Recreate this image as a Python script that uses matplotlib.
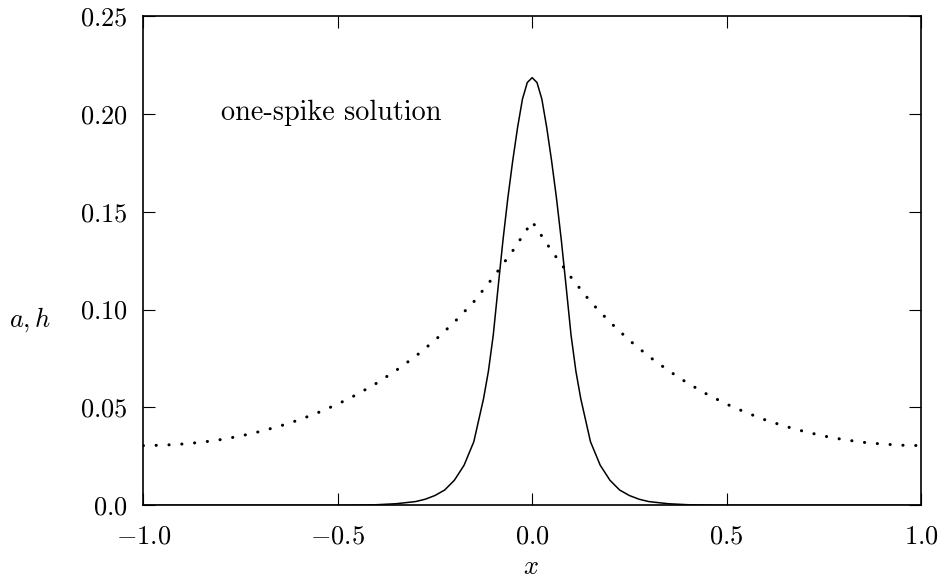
import numpy as np
import matplotlib
matplotlib.use("Agg")
import matplotlib.pyplot as plt

plt.rcParams['font.family'] = ['cmr10', 'DejaVu Serif']
plt.rcParams['mathtext.fontset'] = 'cm'
plt.rcParams['axes.unicode_minus'] = True

# spike profile a(x) (solid)
x_a = [-1.0, -0.5, -0.45, -0.4, -0.35, -0.3, -0.275, -0.25, -0.225, -0.2, -0.175, -0.15,
       -0.125, -0.1125, -0.1, -0.0875, -0.075, -0.0625, -0.05, -0.0375, -0.025, -0.0125,
       0.0,
       0.0125, 0.025, 0.0375, 0.05, 0.0625, 0.075, 0.0875, 0.1, 0.1125, 0.125,
       0.15, 0.175, 0.2, 0.225, 0.25, 0.275, 0.3, 0.35, 0.4, 0.45, 0.5, 1.0]
a_vals = [0.0, 0.0, 0.0001, 0.0003, 0.0008, 0.0019, 0.0031, 0.0050, 0.0078, 0.0128, 0.0205, 0.0325,
          0.0545, 0.0685, 0.0870, 0.1115, 0.1355, 0.1570, 0.1760, 0.1930, 0.2075, 0.2160,
          0.2185,
          0.2160, 0.2075, 0.1930, 0.1760, 0.1570, 0.1355, 0.1115, 0.0870, 0.0685, 0.0545,
          0.0325, 0.0205, 0.0128, 0.0078, 0.0050, 0.0031, 0.0019, 0.0008, 0.0003, 0.0001, 0.0, 0.0]

# inhibitor h(x) (dotted)
x_h = [-1.0, -0.95, -0.9, -0.85, -0.8, -0.75, -0.7, -0.65, -0.6, -0.55, -0.5, -0.45, -0.4,
       -0.35, -0.3, -0.25, -0.2, -0.15, -0.1, -0.05, 0.0,
       0.05, 0.1, 0.15, 0.2, 0.25, 0.3, 0.35, 0.4, 0.45, 0.5, 0.55, 0.6, 0.65, 0.7,
       0.75, 0.8, 0.85, 0.9, 0.95, 1.0]
h_vals = [0.0305, 0.0307, 0.0313, 0.0322, 0.0336, 0.0354, 0.0377, 0.0404, 0.0436, 0.0474, 0.0517,
          0.0567, 0.0624, 0.0689, 0.0761, 0.0843, 0.0936, 0.1040, 0.1165, 0.1300, 0.1450,
          0.1300, 0.1165, 0.1040, 0.0936, 0.0843, 0.0761, 0.0689, 0.0624, 0.0567, 0.0517,
          0.0474, 0.0436, 0.0404, 0.0377, 0.0354, 0.0336, 0.0322, 0.0313, 0.0307, 0.0305]

xticks = [-1.0, -0.5, 0.0, 0.5, 1.0]
xtick_labels = ['$-1.0$', '$-0.5$', '$0.0$', '$0.5$', '$1.0$']
yticks = [0.0, 0.05, 0.10, 0.15, 0.20, 0.25]
ytick_labels = ['$0.0$', '$0.05$', '$0.10$', '$0.15$', '$0.20$', '$0.25$']

fs = 19

fig = plt.figure(figsize=(9.43, 5.81), dpi=100)
ax = fig.add_axes([143.3 / 943, 1 - 505.3 / 581, 777.7 / 943, 489.3 / 581])

ax.plot(x_a, a_vals, color='black', lw=1.1, zorder=2)
ax.plot(x_h, h_vals, color='black', lw=2.2, linestyle=(0, (0.05, 4.15)),
        dash_capstyle='round', zorder=2)

ax.set_xlim(-1, 1)
ax.set_ylim(0, 0.25)
ax.set_xticks(xticks)
ax.set_xticklabels(xtick_labels)
ax.set_yticks(yticks)
ax.set_yticklabels(ytick_labels)
ax.tick_params(direction='in', length=8.6, width=0.8, top=True, right=True,
               labelsize=fs)
ax.tick_params(axis='x', pad=14)
ax.tick_params(axis='y', pad=11)
for s in ax.spines.values():
    s.set_linewidth(1.2)
    s.set_zorder(3)

ax.text(-0.80, 0.2005, 'one-spike solution', fontsize=20.3, va='center', ha='left')

ax.set_xlabel('$x$', fontsize=fs, va='center')
ax.xaxis.set_label_coords(0.499, -0.126)
ax.set_ylabel('$a, h$', fontsize=fs, rotation=0, va='center', ha='center')
ax.yaxis.set_label_coords(-0.146, 0.379)

fig.savefig('out.png', dpi=100)
